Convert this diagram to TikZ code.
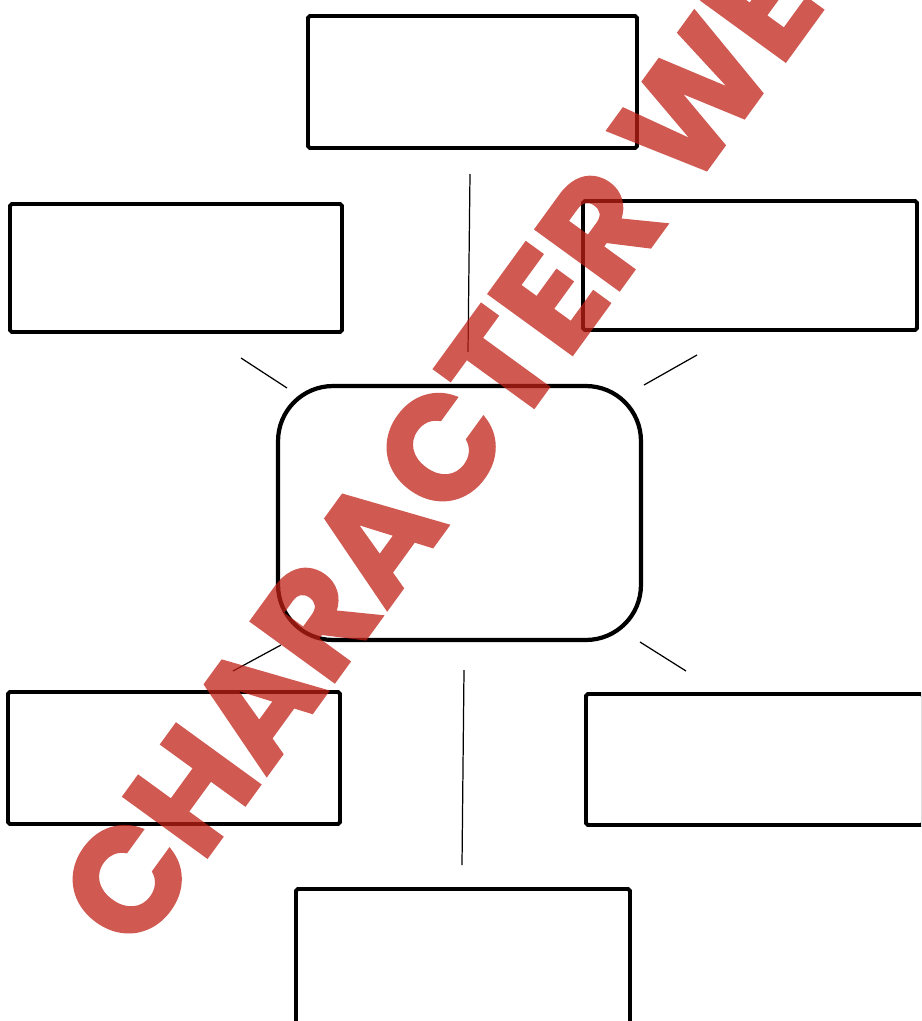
\documentclass[tikz,border=0pt]{standalone}
\usepackage{fontspec}
\usepackage{tikz}
\usetikzlibrary{positioning, calc}
\newfontfamily\markfont{Poppins}[BoldFeatures={FakeBold=1.6}]
\definecolor{markred}{RGB}{192,32,22}

\begin{document}
\begin{tikzpicture}[
    x=0.02cm, y=-0.02cm,
    box/.style={draw=black, line width=2.2pt, rounded corners=1pt, fill=white, inner sep=0pt},
    hubbox/.style={draw=black, line width=2.4pt, rounded corners=1.1cm, fill=white, inner sep=0pt},
    spoke/.style={draw=black, line width=0.7pt},
    stamp/.style={text=markred, font=\markfont\bfseries\fontsize{84}{84}\selectfont, inner sep=0pt}
]
\useasboundingbox (0,0) rectangle (921,1021);
\clip (0,0) rectangle (921,1021);

% Outer boxes (round the hub)
\node[box, minimum width=6.58cm, minimum height=2.64cm] (top) at (472.5,82) {};
\node[box, minimum width=6.64cm, minimum height=2.56cm] (left) at (176,268) {};
\node[box, minimum width=6.68cm, minimum height=2.58cm] (right) at (750,265.5) {};
\node[box, minimum width=6.64cm, minimum height=2.64cm] (botleft) at (174,758) {};
\node[box, minimum width=6.74cm, minimum height=2.62cm] (botright) at (754.5,759.5) {};
\node[box, minimum width=6.68cm, minimum height=2.70cm] (bottom) at (463,956.5) {};

% Central rounded box
\node[hubbox, minimum width=7.26cm, minimum height=5.08cm] (hub) at (459.5,513) {};

% Loose spokes
\coordinate (nA) at (470,174);  \coordinate (nB) at (468,352);
\coordinate (sA) at (464,670);  \coordinate (sB) at (462,865);
\coordinate (nwA) at (241,358); \coordinate (nwB) at (287,388);
\coordinate (neA) at (644,385); \coordinate (neB) at (697,355);
\coordinate (swA) at (233,671); \coordinate (swB) at (281,645);
\coordinate (seA) at (640,642); \coordinate (seB) at (686,671);
\foreach \a/\b in {nA/nB, sA/sB, nwA/nwB, neA/neB, swA/swB, seA/seB}
    \draw[spoke] (\a) -- (\b);

% Watermark (one transparency group, so the glyph outline does not show)
\begin{scope}[transparency group, opacity=0.74]
\node[stamp, rotate=54] (mark) at (468,410) {CHARACTER WEB};
\end{scope}

\end{tikzpicture}
\end{document}
